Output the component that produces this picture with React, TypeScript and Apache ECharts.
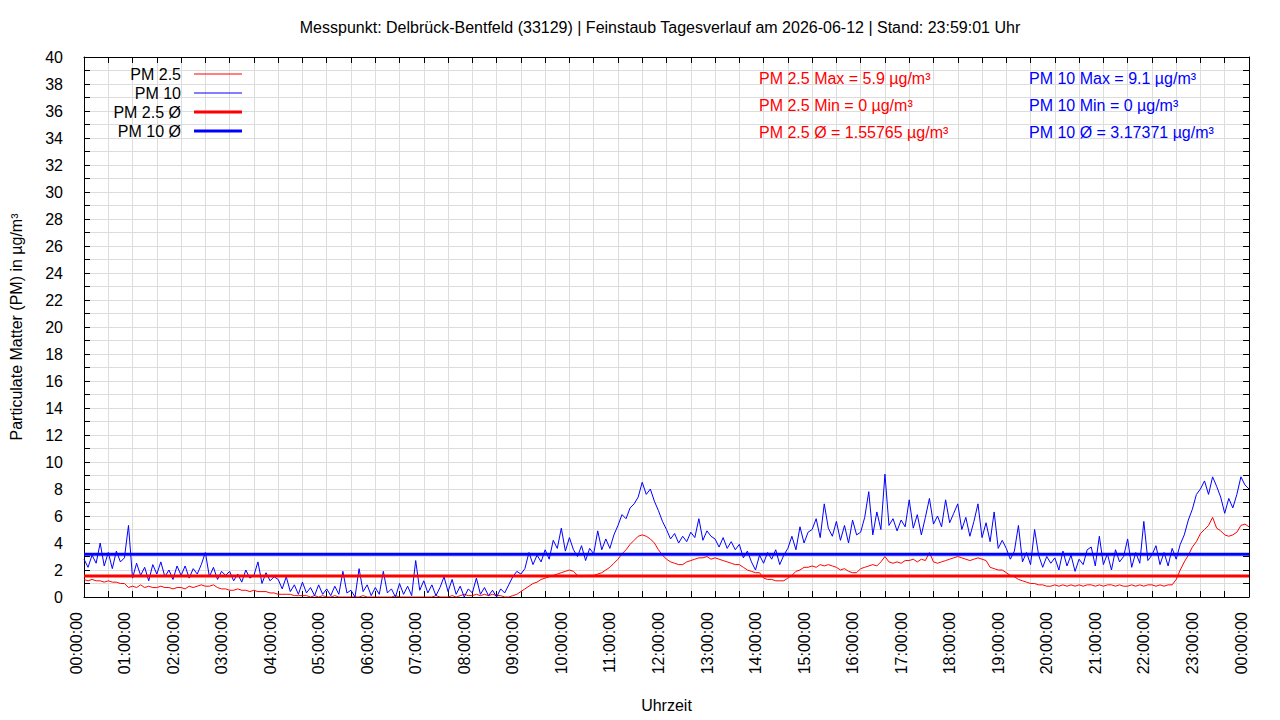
import React, { useEffect, useRef } from "react";
import * as echarts from "echarts";

// ---- data (5-minute samples, 00:00 .. 24:00) ----
const STEP_MIN = 5;

const PM25: number[] = [
  // 00
  1.3, 1.2, 1.3, 1.2, 1.2, 1.1, 1.2, 1.1, 1.1, 1.0, 1.0, 0.7,
  // 01
  0.8, 0.7, 0.9, 0.7, 0.8, 0.7, 0.7, 0.8, 0.7, 0.7, 0.6, 0.7,
  // 02
  0.7, 0.6, 0.8, 0.7, 0.8, 0.9, 0.8, 0.8, 0.9, 0.7, 0.6, 0.6,
  // 03
  0.5, 0.5, 0.6, 0.5, 0.5, 0.4, 0.5, 0.4, 0.4, 0.4, 0.3, 0.3,
  // 04
  0.2, 0.2, 0.2, 0.2, 0.1, 0.1, 0.1, 0.1, 0.0, 0.1, 0.0, 0.1,
  // 05
  0.0, 0.0, 0.1, 0.0, 0.0, 0.0, 0.0, 0.0, 0.0, 0.1, 0.0, 0.0,
  // 06
  0.0, 0.0, 0.0, 0.0, 0.0, 0.1, 0.0, 0.0, 0.0, 0.0, 0.0, 0.0,
  // 07
  0.0, 0.0, 0.0, 0.1, 0.0, 0.0, 0.0, 0.1, 0.0, 0.1, 0.2, 0.1,
  // 08
  0.1, 0.2, 0.1, 0.2, 0.1, 0.2, 0.1, 0.1, 0.0, 0.0, 0.1, 0.2,
  // 09
  0.4, 0.6, 0.8, 1.0, 1.1, 1.3, 1.4, 1.5, 1.6, 1.7, 1.8, 1.9,
  // 10
  2.0, 1.9, 1.6, 1.5, 1.6, 1.6, 1.6, 1.7, 1.8, 2.0, 2.2, 2.5,
  // 11
  2.8, 3.2, 3.5, 3.9, 4.2, 4.5, 4.6, 4.5, 4.3, 4.0, 3.5, 3.1,
  // 12
  2.8, 2.6, 2.5, 2.4, 2.4, 2.6, 2.7, 2.8, 2.9, 2.9, 3.0, 2.8,
  // 13
  2.9, 2.8, 2.7, 2.6, 2.5, 2.4, 2.4, 2.2, 2.0, 1.9, 1.8, 1.8,
  // 14
  1.4, 1.3, 1.3, 1.2, 1.2, 1.2, 1.4, 1.6, 1.9, 2.0, 2.2, 2.2,
  // 15
  2.3, 2.2, 2.4, 2.3, 2.4, 2.3, 2.2, 2.0, 2.1, 1.9, 1.8, 1.8,
  // 16
  2.1, 2.2, 2.3, 2.4, 2.3, 2.6, 3.0, 2.6, 2.5, 2.6, 2.5, 2.7,
  // 17
  2.7, 2.8, 2.6, 2.8, 2.7, 3.3, 2.6, 2.5, 2.6, 2.7, 2.8, 2.9,
  // 18
  3.0, 2.9, 2.8, 2.7, 2.8, 2.9, 2.8, 2.7, 2.2, 2.1, 2.0, 2.0,
  // 19
  1.8, 1.6, 1.5, 1.3, 1.2, 1.1, 1.0, 1.0, 0.9, 0.9, 0.8, 0.8,
  // 20
  0.9, 0.8, 0.9, 0.8, 0.9, 0.8, 0.9, 0.8, 0.9, 0.9, 0.8, 0.9,
  // 21
  0.8, 0.9, 0.9, 0.8, 0.9, 0.8, 0.8, 0.9, 0.8, 0.9, 0.8, 0.9,
  // 22
  0.9, 0.8, 0.9, 0.8, 0.9, 0.9, 1.3, 2.0, 2.6, 3.1, 3.7, 4.1,
  // 23
  4.7, 5.0, 5.3, 5.9, 5.1, 4.9, 4.6, 4.5, 4.6, 4.8, 5.3, 5.4,
  // 24:00
  5.2,
];

const PM10: number[] = [
  // 00
  2.8, 2.2, 3.1, 2.5, 4.0, 2.3, 3.3, 2.1, 3.4, 2.6, 2.9, 5.3,
  // 01
  1.4, 2.5, 1.6, 2.2, 1.2, 2.4, 1.7, 2.6, 1.5, 2.0, 1.3, 2.3,
  // 02
  1.6, 2.3, 1.4, 2.1, 1.7, 2.4, 3.3, 1.5, 2.2, 1.3, 1.9, 1.6,
  // 03
  1.9, 1.2, 1.7, 1.1, 2.0, 1.4, 1.6, 2.6, 1.0, 1.8, 1.2, 1.5,
  // 04
  1.3, 0.6, 1.5, 0.4, 0.9, 0.2, 1.1, 0.3, 0.7, 0.1, 0.9, 0.2,
  // 05
  0.6, 0.1, 0.8, 0.2, 1.9, 0.3, 0.5, 0.0, 2.1, 0.4, 0.9, 0.1,
  // 06
  0.7, 0.2, 1.9, 0.3, 0.6, 0.0, 1.0, 0.2, 0.8, 0.1, 2.7, 0.5,
  // 07
  1.2, 0.3, 0.9, 0.1, 0.7, 1.5, 0.4, 1.3, 0.2, 0.8, 0.0, 0.6,
  // 08
  0.3, 1.4, 0.2, 0.7, 0.1, 0.5, 0.0, 0.6, 0.3, 0.9, 1.5, 1.9,
  // 09
  1.7, 2.1, 3.3, 2.4, 3.1, 2.6, 3.5, 2.8, 4.2, 3.6, 5.1, 3.4,
  // 10
  4.4, 3.5, 3.0, 3.8, 2.7, 3.6, 3.2, 4.9, 3.5, 4.3, 3.6, 4.6,
  // 11
  5.3, 6.1, 5.8, 6.6, 6.9, 7.4, 8.5, 7.6, 8.0, 7.1, 6.4, 5.6,
  // 12
  5.0, 4.3, 4.7, 4.0, 4.5, 4.1, 4.8, 4.4, 5.8, 4.2, 4.9, 4.5,
  // 13
  4.3, 3.7, 4.4, 3.6, 4.1, 3.5, 3.9, 2.9, 3.4, 2.6, 2.0, 3.1,
  // 14
  2.5, 3.3, 2.8, 3.5, 2.4, 3.1, 3.6, 4.5, 3.5, 5.2, 4.0, 4.8,
  // 15
  5.0, 5.8, 4.4, 6.9, 5.1, 4.5, 5.6, 4.2, 5.3, 4.0, 5.7, 4.6,
  // 16
  4.8, 5.9, 7.8, 4.6, 6.3, 5.0, 9.1, 5.3, 5.8, 4.9, 5.7, 5.2,
  // 17
  7.2, 5.1, 6.1, 4.6, 5.9, 7.3, 5.4, 6.0, 5.2, 7.2, 5.5, 6.2,
  // 18
  6.9, 5.0, 5.9, 4.5, 5.6, 6.9, 4.4, 5.5, 4.1, 6.3, 3.6, 4.2,
  // 19
  3.6, 2.8, 3.4, 5.3, 2.6, 3.3, 2.4, 5.0, 3.1, 2.2, 3.0, 2.5,
  // 20
  2.9, 2.0, 3.4, 2.3, 3.1, 1.9, 2.8, 2.4, 3.5, 3.7, 2.3, 4.5,
  // 21
  2.4, 3.2, 2.0, 3.5, 2.6, 3.0, 4.3, 2.2, 3.3, 2.5, 5.6, 2.7,
  // 22
  3.1, 3.8, 2.4, 3.3, 2.3, 3.6, 2.8, 3.9, 4.6, 5.7, 6.5, 7.6,
  // 23
  8.0, 8.6, 7.6, 8.9, 8.2, 7.4, 6.2, 7.3, 6.6, 7.6, 8.9, 8.3,
  // 24:00
  8.0,
];

const PM25_AVG = 1.55765;
const PM10_AVG = 3.17371;
const PM25_MAX = 5.9;
const PM25_MIN = 0;
const PM10_MAX = 9.1;
const PM10_MIN = 0;

const SERIES_NAMES = ["PM 2.5", "PM 10", "PM 2.5 Ø", "PM 10 Ø"];
const TITLE =
  "Messpunkt: Delbrück-Bentfeld (33129) | Feinstaub Tagesverlauf am 2026-06-12 | Stand: 23:59:01 Uhr";
const X_NAME = "Uhrzeit";
const Y_NAME = "Particulate Matter (PM) in µg/m³";

const X_MIN = 0;
const X_MAX = 1440;
const X_TICK = 30;
const Y_MIN = 0;
const Y_MAX = 40;
const Y_TICK = 1;

const RED = "#ff0000";
const BLUE = "#0000ff";
const GRID = "#dcdcdc";
const FONT = "Liberation Sans, Arial, sans-serif";

function fmtTime(m: number): string {
  const h = Math.floor(m / 60) % 24;
  return String(h).padStart(2, "0") + ":00:00";
}

export default function App() {
  const ref = useRef<HTMLDivElement>(null);

  useEffect(() => {
    if (!ref.current) return;
    const chart = echarts.init(ref.current, undefined, { renderer: "svg" });

    const pm25Data = PM25.map((v, i) => [i * STEP_MIN, v]);
    const pm10Data = PM10.map((v, i) => [i * STEP_MIN, v]);
    const avg25 = [
      [X_MIN, PM25_AVG],
      [X_MAX, PM25_AVG],
    ];
    const avg10 = [
      [X_MIN, PM10_AVG],
      [X_MAX, PM10_AVG],
    ];

    const baseX = {
      type: "value",
      min: X_MIN,
      max: X_MAX,
      interval: X_TICK,
      axisLine: { show: true, onZero: false, lineStyle: { color: "#000", width: 1 } },
      axisTick: { show: true, inside: true, length: 6, lineStyle: { color: "#000" } },
    };
    const baseY = {
      type: "value",
      min: Y_MIN,
      max: Y_MAX,
      interval: Y_TICK,
      axisLine: { show: true, onZero: false, lineStyle: { color: "#000", width: 1 } },
      axisTick: { show: true, inside: true, length: 6, lineStyle: { color: "#000" } },
    };

    const textStyle = (color: string) => ({
      fill: color,
      font: `16px ${FONT}`,
      fontSize: 16,
      fontFamily: FONT,
    });

    const legendRows = [
      { name: SERIES_NAMES[0], color: RED, width: 1, y: 74 },
      { name: SERIES_NAMES[1], color: BLUE, width: 1, y: 93 },
      { name: SERIES_NAMES[2], color: RED, width: 3, y: 112 },
      { name: SERIES_NAMES[3], color: BLUE, width: 3, y: 131 },
    ];

    const graphics: any[] = [];
    legendRows.forEach((r) => {
      graphics.push({
        type: "text",
        x: 181,
        y: r.y,
        z: 100,
        style: {
          text: r.name,
          ...textStyle("#000"),
          align: "right",
          textAlign: "right",
          verticalAlign: "middle",
          textVerticalAlign: "middle",
        },
      });
      graphics.push({
        type: "line",
        z: 100,
        shape: { x1: 194, y1: r.y, x2: 242, y2: r.y },
        style: { stroke: r.color, lineWidth: r.width },
      });
    });

    const stats = [
      { text: `PM 2.5 Max = ${PM25_MAX} µg/m³`, x: 759, y: 78, color: RED },
      { text: `PM 2.5 Min = ${PM25_MIN} µg/m³`, x: 759, y: 105, color: RED },
      { text: `PM 2.5 Ø = ${PM25_AVG} µg/m³`, x: 759, y: 132, color: RED },
      { text: `PM 10 Max = ${PM10_MAX} µg/m³`, x: 1029, y: 78, color: BLUE },
      { text: `PM 10 Min = ${PM10_MIN} µg/m³`, x: 1029, y: 105, color: BLUE },
      { text: `PM 10 Ø = ${PM10_AVG} µg/m³`, x: 1029, y: 132, color: BLUE },
    ];
    stats.forEach((s) => {
      graphics.push({
        type: "text",
        x: s.x,
        y: s.y,
        z: 100,
        style: {
          text: s.text,
          ...textStyle(s.color),
          align: "left",
          textAlign: "left",
          verticalAlign: "middle",
          textVerticalAlign: "middle",
        },
      });
    });

    chart.setOption({
      animation: false,
      backgroundColor: "#ffffff",
      textStyle: { fontFamily: FONT },
      title: {
        text: TITLE,
        left: 655,
        top: 14,
        textAlign: "center",
        textStyle: { fontSize: 16, fontWeight: "normal", color: "#000", fontFamily: FONT },
      },
      grid: { left: 74, top: 57, width: 1175, height: 540, containLabel: false },
      xAxis: [
        {
          ...baseX,
          position: "bottom",
          name: X_NAME,
          nameLocation: "middle",
          nameGap: 100,
          nameTextStyle: { fontSize: 16, color: "#000", fontFamily: FONT },
          axisLabel: {
            show: true,
            rotate: 90,
            margin: 15,
            fontSize: 16,
            color: "#000",
            fontFamily: FONT,
            hideOverlap: false,
            verticalAlign: "bottom",
            formatter: (v: number) => (v % 60 === 0 ? fmtTime(v) : ""),
          },
          splitLine: { show: true, lineStyle: { color: GRID, width: 1 } },
        },
        {
          ...baseX,
          position: "top",
          axisLabel: { show: false },
          splitLine: { show: false },
        },
      ],
      yAxis: [
        {
          ...baseY,
          position: "left",
          name: Y_NAME,
          nameLocation: "middle",
          nameRotate: 90,
          nameGap: 60,
          nameTextStyle: { fontSize: 16, color: "#000", fontFamily: FONT },
          axisLabel: {
            show: true,
            margin: 21,
            fontSize: 16,
            color: "#000",
            fontFamily: FONT,
            formatter: (v: number) => (v % 2 === 0 ? String(v) : ""),
          },
          splitLine: { show: true, lineStyle: { color: GRID, width: 1 } },
        },
        {
          ...baseY,
          position: "right",
          axisLabel: { show: false },
          splitLine: { show: false },
        },
      ],
      series: [
        {
          name: SERIES_NAMES[0],
          type: "line",
          data: pm25Data,
          showSymbol: false,
          symbol: "none",
          lineStyle: { color: RED, width: 1 },
          itemStyle: { color: RED },
        },
        {
          name: SERIES_NAMES[1],
          type: "line",
          data: pm10Data,
          showSymbol: false,
          symbol: "none",
          lineStyle: { color: BLUE, width: 1 },
          itemStyle: { color: BLUE },
        },
        {
          name: SERIES_NAMES[2],
          type: "line",
          data: avg25,
          showSymbol: false,
          symbol: "none",
          lineStyle: { color: RED, width: 3 },
          itemStyle: { color: RED },
        },
        {
          name: SERIES_NAMES[3],
          type: "line",
          data: avg10,
          showSymbol: false,
          symbol: "none",
          lineStyle: { color: BLUE, width: 3 },
          itemStyle: { color: BLUE },
        },
      ],
      graphic: graphics,
    });

    return () => chart.dispose();
  }, []);

  return (
    <div
      ref={ref}
      style={{ position: "fixed", left: 0, top: 0, width: 1280, height: 720, background: "#fff" }}
    />
  );
}
